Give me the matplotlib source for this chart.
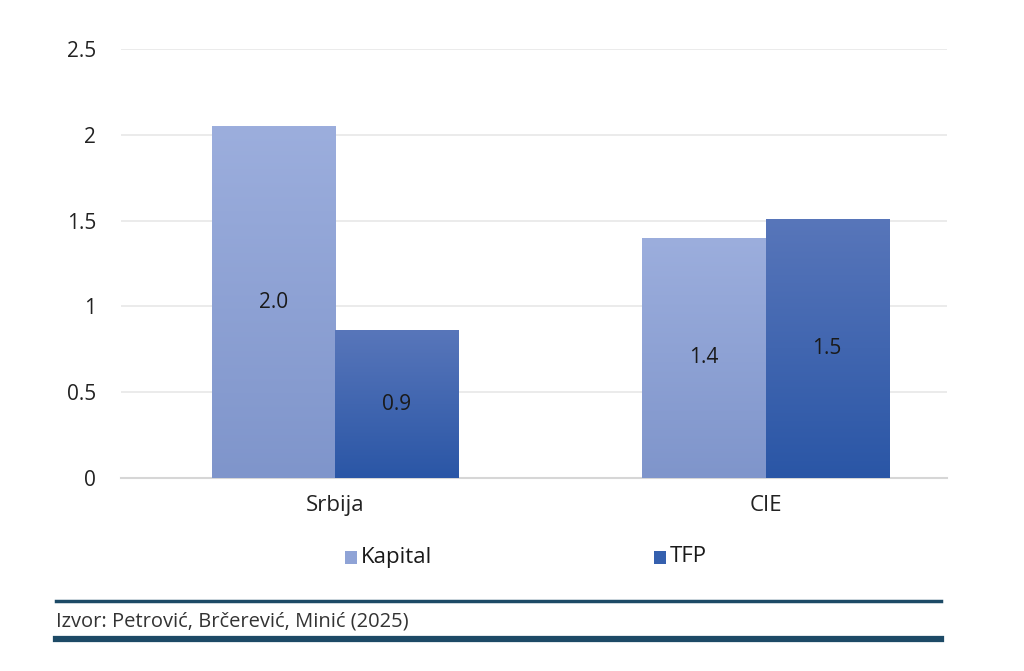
import matplotlib
matplotlib.use("Agg")
import matplotlib.pyplot as plt
import numpy as np
from matplotlib.colors import LinearSegmentedColormap
from matplotlib.patches import Rectangle

categories = ["Srbija", "CIE"]
series = ["Kapital", "TFP"]
kapital = [2.05, 1.40]
tfp = [0.86, 1.51]
labels_kapital = ["2.0", "1.4"]
labels_tfp = ["0.9", "1.5"]
yticks = [0, 0.5, 1, 1.5, 2, 2.5]
ytick_labels = ["0", "0.5", "1", "1.5", "2", "2.5"]
source = "Izvor: Petrović, Brčerević, Minić (2025)"

plt.rcParams['font.family'] = ['Open Sans', 'DejaVu Sans']

W, H = 1024, 671
fig = plt.figure(figsize=(W/100, H/100), dpi=100)
ax = fig.add_axes([121/W, 1 - 478/H, (947-121)/W, (478-49)/H])

x = np.arange(len(categories))
bw = 0.286
grad_k = LinearSegmentedColormap.from_list("gk", ["#7f95cb", "#9caedd"])
grad_t = LinearSegmentedColormap.from_list("gt", ["#2a56a6", "#5876ba"])

def grad_bars(xs, vals, cmap):
    bars = ax.bar(xs, vals, bw, color="none", edgecolor="none", zorder=3)
    g = np.linspace(0, 1, 256).reshape(-1, 1)
    for b in bars:
        x0, y0 = b.get_x(), b.get_y()
        w, h = b.get_width(), b.get_height()
        im = ax.imshow(g, cmap=cmap, aspect="auto", origin="lower",
                       extent=[x0, x0 + w, y0, y0 + h], zorder=3)
        im.set_clip_path(b)
    return bars

bk = grad_bars(x - bw/2, kapital, grad_k)
bt = grad_bars(x + bw/2, tfp, grad_t)
ax.set_xlim(-0.4965, 1.421)
ax.set_ylim(0, 2.5)

for i in range(len(categories)):
    ax.text(x[i] - bw/2, kapital[i]/2, labels_kapital[i], ha="center", va="center",
            fontsize=15, color="#1a1a1a", zorder=5)
    ax.text(x[i] + bw/2, tfp[i]/2, labels_tfp[i], ha="center", va="center",
            fontsize=15, color="#1a1a1a", zorder=5)

ax.set_yticks(yticks)
ax.set_yticklabels(ytick_labels, fontsize=15, color="#222222")
ax.set_xticks(x)
ax.set_xticklabels(categories, fontsize=16, color="#222222")
ax.tick_params(axis="both", length=0)
ax.tick_params(axis="y", pad=18)
ax.tick_params(axis="x", pad=12)
ax.grid(axis="y", color="#e8e8e8", linewidth=1.2, zorder=0)
ax.set_axisbelow(True)
for s in ["top", "right", "left"]:
    ax.spines[s].set_visible(False)
ax.spines["bottom"].set_color("#d6d6d6")
ax.spines["bottom"].set_linewidth(1.5)

# legend
for px, col, lab in [(345, "#8fa3d6", series[0]), (654, "#3560ae", series[1])]:
    fig.patches.append(Rectangle((px/W, 1 - 564/H), 12/W, 13/H, transform=fig.transFigure,
                                 facecolor=col, edgecolor="none"))
    fig.text((px + 16)/W, 1 - 557/H, lab, fontsize=16, color="#1a1a1a", va="center", ha="left")

# source lines
fig.add_artist(plt.Line2D([56/W, 941/W], [1 - 601/H, 1 - 601/H], transform=fig.transFigure,
                          color="#1d4a66", linewidth=2.5))
fig.add_artist(plt.Line2D([56/W, 941/W], [1 - 639/H, 1 - 639/H], transform=fig.transFigure,
                          color="#1d4a66", linewidth=4.5))
fig.text(56/W, 1 - 621/H, source, fontsize=14.5, color="#333333", va="center", ha="left")

fig.savefig("out.png", dpi=100)
